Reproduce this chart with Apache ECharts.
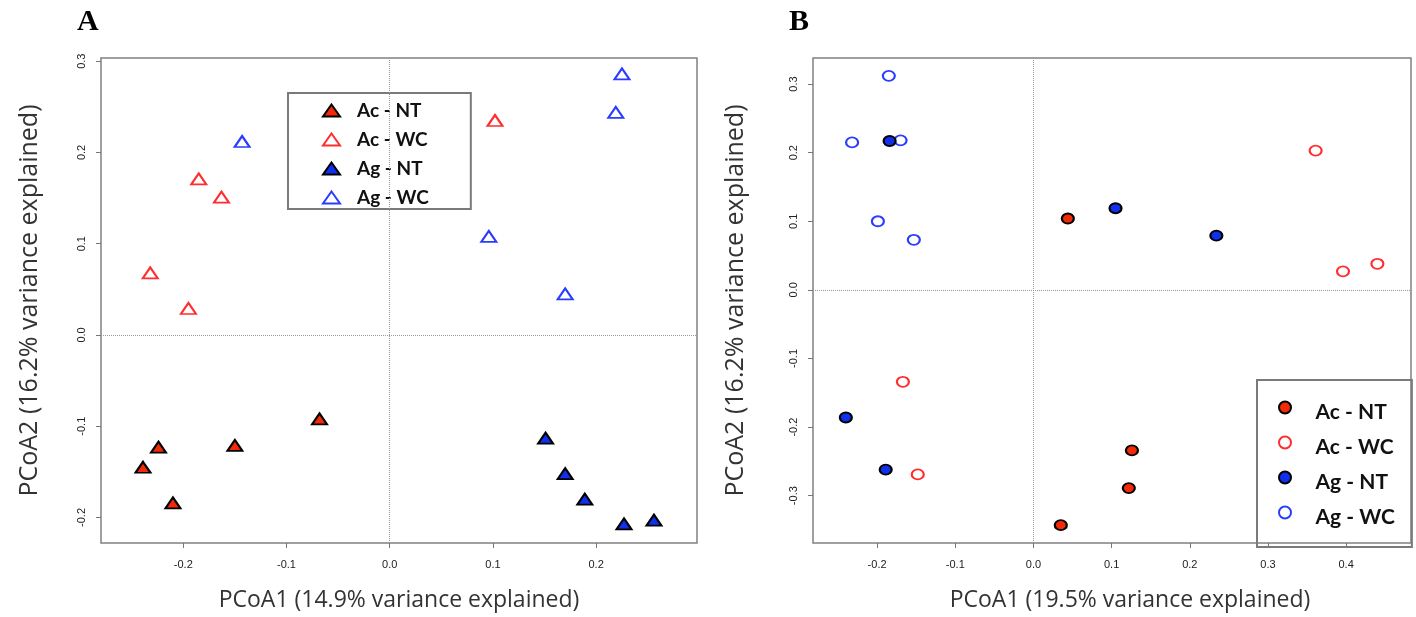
<!DOCTYPE html>
<html>
<head>
<meta charset="utf-8">
<title>PCoA</title>
<script src="https://cdn.jsdelivr.net/npm/echarts@6/dist/echarts.min.js"></script>
<style>
    html, body { margin: 0; padding: 0; background: #fff; }
    #chart { width: 1416px; height: 617px; }
</style>
</head>
<body>
<div id="chart"></div>
<script>
// group names shared by both panels
const groups = ['Ac - NT', 'Ac - WC', 'Ag - NT', 'Ag - WC'];

// panel A: [PCoA1, PCoA2]
const acNtA = [[-0.068, -0.092], [-0.150, -0.121], [-0.224, -0.123], [-0.239, -0.145], [-0.210, -0.184]];
const acWcA = [[0.102, 0.235], [-0.185, 0.171], [-0.163, 0.151], [-0.232, 0.068], [-0.195, 0.029]];
const agNtA = [[0.151, -0.113], [0.170, -0.152], [0.189, -0.180], [0.227, -0.207], [0.256, -0.203]];
const agWcA = [[0.225, 0.286], [0.219, 0.244], [-0.143, 0.212], [0.096, 0.108], [0.170, 0.045]];

// panel B
const acNtB = [[0.044, 0.104], [0.126, -0.234], [0.122, -0.289], [0.035, -0.343]];
const acWcB = [[0.361, 0.203], [0.396, 0.027], [0.440, 0.038], [-0.167, -0.134], [-0.148, -0.269]];
const agNtB = [[-0.184, 0.217], [0.105, 0.119], [0.234, 0.079], [-0.240, -0.186], [-0.189, -0.262]];
const agWcB = [[-0.185, 0.312], [-0.232, 0.215], [-0.170, 0.218], [-0.199, 0.100], [-0.153, 0.073]];

// tick labels
const xTicksA = [-0.2, -0.1, 0.0, 0.1, 0.2];
const yTicksA = [-0.2, -0.1, 0.0, 0.1, 0.2, 0.3];
const xTicksB = [-0.2, -0.1, 0.0, 0.1, 0.2, 0.3, 0.4];
const yTicksB = [-0.3, -0.2, -0.1, 0.0, 0.1, 0.2, 0.3];

const RED = '#f22a08';
const BLUE = '#1030ee';
const RED_O = '#ff2e2e';
const BLUE_O = '#2a3cff';

let chart = echarts.init(document.getElementById('chart'));

function xAxisOf (idx, ticks, min, max, name, namePad) {
    return {
        type: 'value', gridIndex: idx, min: min, max: max,
        name: name, nameLocation: 'middle', nameGap: 46,
        nameTextStyle: { fontFamily: 'Open Sans', fontSize: 23, color: '#333', padding: namePad },
        axisLine: { show: false, onZero: false },
        axisTick: { show: true, length: 5, customValues: ticks, lineStyle: { color: '#777' } },
        axisLabel: {
            customValues: ticks, margin: 16,
            fontFamily: 'Liberation Sans', fontSize: 11, color: '#222',
            formatter: v => v.toFixed(1)
        },
        splitLine: { show: false }
    };
}

function yAxisOf (idx, ticks, min, max, gap) {
    return {
        type: 'value', gridIndex: idx, min: min, max: max,
        name: 'PCoA2 (16.2% variance explained)', nameLocation: 'middle', nameGap: gap,
        nameTextStyle: { fontFamily: 'Open Sans', fontSize: 25, color: '#333' },
        axisLine: { show: false, onZero: false },
        axisTick: { show: true, length: 5, customValues: ticks, lineStyle: { color: '#777' } },
        axisLabel: {
            customValues: ticks, margin: 14, rotate: 90,
            fontFamily: 'Liberation Sans', fontSize: 11, color: '#222',
            formatter: v => v.toFixed(1)
        },
        splitLine: { show: false }
    };
}

function scatter (name, idx, data, symbol, size, fill, border) {
    return {
        name: name, type: 'scatter', xAxisIndex: idx, yAxisIndex: idx,
        data: data, symbol: symbol, symbolSize: size,
        itemStyle: { color: fill, borderColor: border, borderWidth: 2, opacity: 1 },
        emphasis: { disabled: true }
    };
}

const zeroLines = {
    silent: true, symbol: 'none', label: { show: false },
    lineStyle: { color: '#999', type: 'dotted', width: 1 },
    data: [{ xAxis: 0 }, { yAxis: 0 }]
};

const tri = [15, 11];
const dot = [12, 10];

let seriesA = [
    scatter(groups[1], 0, acWcA, 'triangle', tri, 'rgba(0,0,0,0)', RED_O),
    scatter(groups[3], 0, agWcA, 'triangle', tri, 'rgba(0,0,0,0)', BLUE_O),
    scatter(groups[0], 0, acNtA, 'triangle', tri, RED, '#000'),
    scatter(groups[2], 0, agNtA, 'triangle', tri, BLUE, '#000')
];
seriesA[0].markLine = zeroLines;

let seriesB = [
    scatter(groups[1], 1, acWcB, 'circle', dot, 'rgba(0,0,0,0)', RED_O),
    scatter(groups[3], 1, agWcB, 'circle', dot, 'rgba(0,0,0,0)', BLUE_O),
    scatter(groups[0], 1, acNtB, 'circle', dot, RED, '#000'),
    scatter(groups[2], 1, agNtB, 'circle', dot, BLUE, '#000')
];
seriesB[0].markLine = zeroLines;

const legendStyle = [
    { color: RED, borderColor: '#000' },
    { color: '#fff', borderColor: RED_O },
    { color: BLUE, borderColor: '#000' },
    { color: '#fff', borderColor: BLUE_O }
];

const option = {
    animation: false,
    title: [
        { text: 'A', left: 77, top: 7, padding: 0,
          textStyle: { fontFamily: 'Liberation Serif', fontWeight: 'bold', fontSize: 30, color: '#000' } },
        { text: 'B', left: 789, top: 7, padding: 0,
          textStyle: { fontFamily: 'Liberation Serif', fontWeight: 'bold', fontSize: 30, color: '#000' } }
    ],
    grid: [
        { left: 101, right: 719, top: 58, bottom: 72, show: true, borderColor: '#808080', borderWidth: 1.5 },
        { left: 813, right: 5, top: 58, bottom: 71, show: true, borderColor: '#808080', borderWidth: 1.5 }
    ],
    legend: [
        {
            orient: 'vertical', left: 288, top: 93, selectedMode: false,
            padding: [8, 42, 2, 34], itemGap: 10,
            itemWidth: 17, itemHeight: 12, symbolKeepAspect: false,
            borderColor: '#7a7a7a', borderWidth: 2,
            formatter: n => '{t|' + n + '}',
            textStyle: { rich: { t: { fontFamily: 'Lato', fontWeight: 'bold', fontSize: 19, lineHeight: 18, color: '#111', padding: [0, 0, 0, 12] } } },
            data: groups.map((g, i) => ({ name: g, icon: 'triangle', itemStyle: Object.assign({ borderWidth: 2 }, legendStyle[i]) }))
        },
        {
            orient: 'vertical', left: 1257, top: 380, selectedMode: false,
            padding: [12, 17, 19, 21], itemGap: 4,
            itemWidth: 15, itemHeight: 12, symbolKeepAspect: false,
            borderColor: '#7a7a7a', borderWidth: 2,
            formatter: n => '{t|' + n + '}',
            textStyle: { rich: { t: { fontFamily: 'Lato', fontWeight: 'bold', fontSize: 21, lineHeight: 20, color: '#111', padding: [10, 0, 0, 18] } } },
            data: groups.map((g, i) => ({ name: g, icon: 'circle', itemStyle: Object.assign({ borderWidth: 2 }, legendStyle[i]) }))
        }
    ],
    xAxis: [
        xAxisOf(0, xTicksA, -0.2797, 0.2977, 'PCoA1 (14.9% variance explained)', [0, 0, 0, 0]),
        xAxisOf(1, xTicksB, -0.282, 0.483, 'PCoA1 (19.5% variance explained)', [0, 0, 0, 36])
    ],
    yAxis: [
        yAxisOf(0, yTicksA, -0.228, 0.3035, 59),
        yAxisOf(1, yTicksB, -0.369, 0.338, 65)
    ],
    series: seriesA.concat(seriesB)
};

chart.setOption(option);

window.addEventListener('resize', function () {
    chart.resize();
});
</script>
</body>
</html>
